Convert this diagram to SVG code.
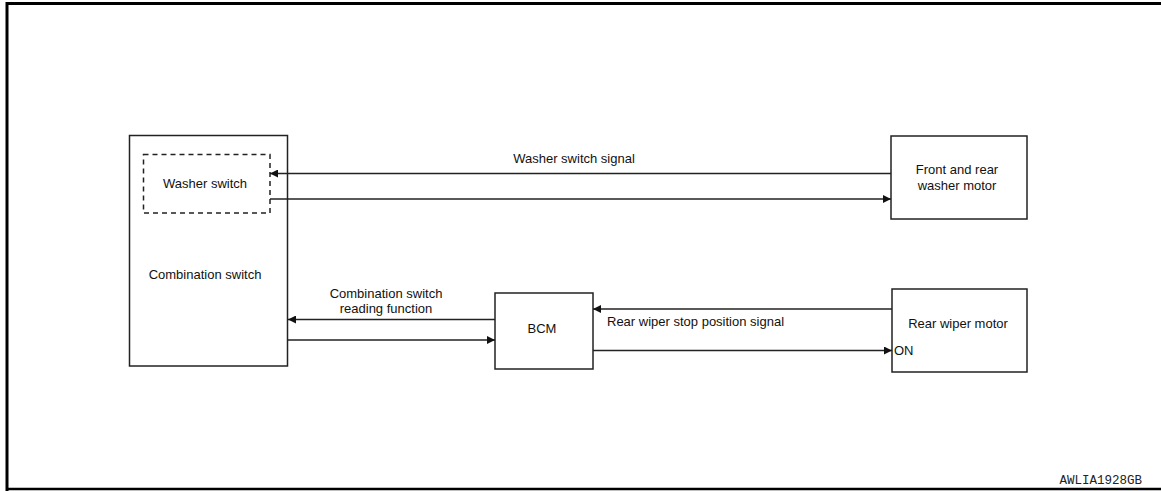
<svg xmlns="http://www.w3.org/2000/svg" width="1161" height="491" viewBox="0 0 1161 491">
<defs>
<style>
.box{fill:#fff;stroke:#222;stroke-width:1.5}
.dash{fill:none;stroke:#222;stroke-width:1.5;stroke-dasharray:5,4}
.ln{fill:none;stroke:#222;stroke-width:1.5}
.t{font-family:"Liberation Sans",Arial,sans-serif;font-size:13px;fill:#111}
.c{text-anchor:middle}
.code{font-family:"Liberation Mono","Courier New",monospace;font-size:12.5px;fill:#222;text-anchor:end}
</style>
<marker id="ah" viewBox="0 0 10 10" refX="10" refY="5" markerWidth="12" markerHeight="8" markerUnits="userSpaceOnUse" orient="auto">
<path d="M0,0 L10,5 L0,10 Z" fill="#111"/>
</marker>
</defs>
<rect width="1161" height="491" fill="#fff"/>
<g id="frame">
<path d="M7,491 V3.5 H1161" fill="none" stroke="#000" stroke-width="3"/>
<line x1="7" y1="489" x2="1161" y2="489" stroke="#000" stroke-width="2.5"/>
</g>
<g id="combination-switch">
<rect class="box" x="129.5" y="135.5" width="158" height="230.5"/>
<text class="t c" x="205" y="279">Combination switch</text>
</g>
<g id="washer-switch">
<rect class="dash" x="143.5" y="154.5" width="126.5" height="58.5"/>
<text class="t c" x="205" y="188">Washer switch</text>
</g>
<g id="washer-motor">
<rect class="box" x="891" y="136" width="136" height="83"/>
<text class="t c" x="957" y="174">Front and rear</text>
<text class="t c" x="957" y="190">washer motor</text>
</g>
<g id="bcm">
<rect class="box" x="495" y="293" width="98" height="76"/>
<text class="t c" x="542" y="333">BCM</text>
</g>
<g id="rear-wiper-motor">
<rect class="box" x="892" y="289" width="135" height="83"/>
<text class="t c" x="958" y="328">Rear wiper motor</text>
<text class="t" x="894" y="355">ON</text>
</g>
<g id="connectors">
<line class="ln" x1="891" y1="173.5" x2="270" y2="173.5" marker-end="url(#ah)"/>
<line class="ln" x1="270" y1="199" x2="891" y2="199" marker-end="url(#ah)"/>
<line class="ln" x1="495" y1="319.5" x2="288" y2="319.5" marker-end="url(#ah)"/>
<line class="ln" x1="288" y1="340" x2="495" y2="340" marker-end="url(#ah)"/>
<line class="ln" x1="892" y1="309" x2="593" y2="309" marker-end="url(#ah)"/>
<line class="ln" x1="593" y1="350.5" x2="892" y2="350.5" marker-end="url(#ah)"/>
<text class="t c" x="574" y="163">Washer switch signal</text>
<text class="t c" x="386" y="298">Combination switch</text>
<text class="t c" x="386" y="313">reading function</text>
<text class="t" x="607" y="326">Rear wiper stop position signal</text>
</g>
<text class="code" x="1142" y="484">AWLIA1928GB</text>
</svg>
